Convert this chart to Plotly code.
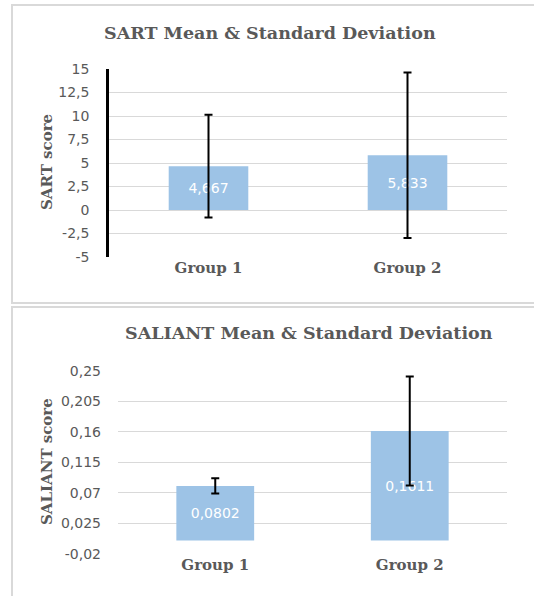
import plotly.graph_objects as go

groups = ["Group 1", "Group 2"]

sart_mean = [4.667, 5.833]
sart_sd = [5.47, 8.8]
sart_labels = ["4,667", "5,833"]
sart_ticks = [-5, -2.5, 0, 2.5, 5, 7.5, 10, 12.5, 15]
sart_ticktext = ["-5", "-2,5", "0", "2,5", "5", "7,5", "10", "12,5", "15"]

sal_mean = [0.0802, 0.1611]
sal_sd = [0.0112, 0.0802]
sal_labels = ["0,0802", "0,1611"]
sal_ticks = [-0.02, 0.025, 0.07, 0.115, 0.16, 0.205, 0.25]
sal_ticktext = ["-0,02", "0,025", "0,07", "0,115", "0,16", "0,205", "0,25"]

W, H = 534, 596
GREY = "#595959"
GRID = "#d9d9d9"
BAR = "#9dc3e6"
SERIF = "DejaVu Serif"
SANS = "DejaVu Sans"

def px(x):
    return x / W

def py(y):
    return 1 - y / H

fig = go.Figure()

fig.add_trace(go.Bar(
    x=groups, y=sart_mean, text=sart_labels, textposition="inside",
    insidetextanchor="middle", textangle=0, constraintext="none",
    textfont=dict(family=SANS, size=14, color="#ffffff"),
    marker=dict(color=BAR, line=dict(width=0)),
    error_y=dict(type="data", array=sart_sd, visible=True, color="black", thickness=2, width=4),
    xaxis="x", yaxis="y", showlegend=False, hoverinfo="skip",
))

fig.add_trace(go.Bar(
    x=groups, y=sal_mean, text=sal_labels, textposition="inside",
    insidetextanchor="middle", textangle=0, constraintext="none",
    textfont=dict(family=SANS, size=14, color="#ffffff"),
    marker=dict(color=BAR, line=dict(width=0)),
    error_y=dict(type="data", array=sal_sd, visible=True, color="black", thickness=2, width=4),
    xaxis="x2", yaxis="y2", showlegend=False, hoverinfo="skip",
))

xfont = dict(family=SERIF, size=15, color=GREY, weight="bold")
yfont = dict(family=SANS, size=14, color=GREY)

fig.update_layout(
    width=W, height=H, autosize=False,
    margin=dict(l=0, r=0, t=0, b=0, pad=0, autoexpand=False),
    paper_bgcolor="white", plot_bgcolor="white",
    bargap=0.6,
    xaxis=dict(domain=[px(109), px(507)], anchor="y", tickfont=xfont,
               showgrid=False, showline=False, ticks="", zeroline=False,
               fixedrange=True),
    yaxis=dict(domain=[py(257), py(69)], anchor="x", range=[-5, 15],
               tickvals=sart_ticks, ticktext=sart_ticktext, tickfont=yfont,
               showgrid=True, gridcolor=GRID, gridwidth=1.3, zeroline=False,
               showline=True, linecolor="black", linewidth=2.5,
               ticks="", ticklabelstandoff=14, fixedrange=True),
    xaxis2=dict(domain=[px(118), px(507)], anchor="y2", tickfont=xfont,
                showgrid=False, showline=False, ticks="", zeroline=False,
                fixedrange=True),
    yaxis2=dict(domain=[py(554), py(370.7)], anchor="x2", range=[-0.02, 0.25],
                tickvals=sal_ticks, ticktext=sal_ticktext, tickfont=yfont,
                showgrid=True, gridcolor=GRID, gridwidth=1.3, zeroline=False,
                showline=False, ticks="", ticklabelstandoff=16, fixedrange=True),
)

tfont = dict(family=SERIF, size=17.5, color=GREY, weight="bold")
afont = dict(family=SERIF, size=15, color=GREY, weight="bold")

fig.add_annotation(text="SART Mean & Standard Deviation", x=px(270), y=py(33),
                   xref="paper", yref="paper", showarrow=False, font=tfont,
                   xanchor="center", yanchor="middle")
fig.add_annotation(text="SALIANT Mean & Standard Deviation", x=px(309), y=py(333),
                   xref="paper", yref="paper", showarrow=False, font=tfont,
                   xanchor="center", yanchor="middle")
fig.add_annotation(text="SART score", x=px(47), y=py(162), textangle=-90,
                   xref="paper", yref="paper", showarrow=False, font=afont,
                   xanchor="center", yanchor="middle")
fig.add_annotation(text="SALIANT score", x=px(47), y=py(462), textangle=-90,
                   xref="paper", yref="paper", showarrow=False, font=afont,
                   xanchor="center", yanchor="middle")

fig.add_shape(type="rect", xref="paper", yref="paper",
              x0=px(12), x1=1.02, y0=py(303), y1=py(5),
              line=dict(color=GRID, width=2), fillcolor="rgba(0,0,0,0)", layer="below")
fig.add_shape(type="rect", xref="paper", yref="paper",
              x0=px(12), x1=1.02, y0=-0.02, y1=py(307),
              line=dict(color=GRID, width=2), fillcolor="rgba(0,0,0,0)", layer="below")

fig.write_html(
    "out.html",
    config={"displayModeBar": False},
    post_script="document.documentElement.style.margin='0';"
                "document.body.style.margin='0';document.body.style.padding='0';"
                "document.body.style.overflow='hidden';",
)
